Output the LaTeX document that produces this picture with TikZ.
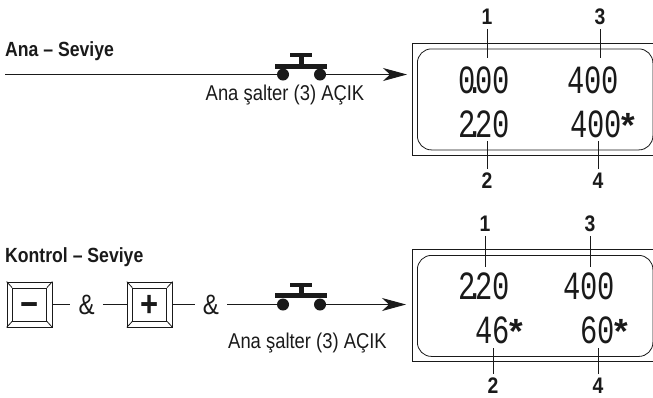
\documentclass[tikz,border=0pt]{standalone}
\usepackage{fontspec}
\usepackage{xcolor}
\usepackage{tikz}
\usetikzlibrary{arrows.meta, positioning, calc}
\setmainfont{Liberation Sans}[FakeStretch=0.86]
\newfontfamily\lcdfont{Liberation Mono}[FakeStretch=0.72]
\newfontfamily\starfont{Liberation Sans Bold}
\definecolor{inkcolor}{HTML}{1A1A1A}
\newcommand{\lcddot}{\kern-0.22em.\kern-0.22em}
\newcommand{\lcdstar}{{\starfont\fontsize{35}{35}\selectfont *}}

\begin{document}
\begin{tikzpicture}[x=1pt, y=-1pt, inkcolor, 
  heading/.style={anchor=west, inner sep=0pt, font=\fontsize{20.5}{22}\selectfont},
  caption/.style={inner sep=0pt, font=\fontsize{21.4}{22}\selectfont},
  callout/.style={inner sep=0pt, font=\fontsize{22.5}{23}\selectfont\bfseries},
  amp/.style={inner sep=0pt, minimum width=32pt, font=\fontsize{28}{30}\selectfont},
  lcd/.style={inner sep=0pt, font=\lcdfont\fontsize{40}{42}\selectfont},
  screen/.style={draw, line width=0.8pt, minimum width=245pt, minimum height=112pt, anchor=north west, inner sep=0pt},
  panel/.style={draw, line width=0.8pt, rounded corners=14pt, minimum width=235.5pt, minimum height=101pt, anchor=north west, inner sep=0pt},
  keyface/.style={draw, line width=0.8pt, minimum width=34pt, minimum height=33pt, inner sep=0pt},
  keycap/.style={draw, line width=0.8pt, minimum width=45pt, minimum height=45pt, inner sep=0pt},
  keysign/.style={inner sep=0pt, font=\fontsize{36}{36}\bfseries\selectfont},
  contact/.style={circle, fill, draw=none, minimum size=12pt, inner sep=0pt},
  wire/.style={line width=1pt},
  feed/.style={wire, -{Stealth[length=24pt, width=13pt, inset=7pt]}},
  tick/.style={line width=1pt}]

  \useasboundingbox (0,0) rectangle (653,397);

  % Ana level
  \node[heading] (H1) at (5,51) {\textbf{Ana – Seviye}};
  \coordinate (W1) at (5,74.5);
  \node[contact] (C1) at (283,74.5) {};
  \node[contact] (C2) at (320,74.5) {};
  \fill (275,63.5) rectangle (327,68.5);
  \fill (298.5,57) rectangle (303.5,64);
  \fill (290,53) rectangle (312,57);
  \node[caption] (T1) at (285,95) {Ana şalter (3) AÇIK};

  % Ana display
  \node[screen] (S1) at (412,43) {};
  \node[panel] (P1) at (417,48.5) {};
  \node[lcd] (D1) at (484,80) {0\lcddot00};
  \node[lcd] (D2) at (593,80) {400};
  \node[lcd] (D3) at (484,124) {2\lcddot20};
  \node[lcd, anchor=west] (D4) at (570,124) {400\kern-0.02em\lcdstar};
  \coordinate (I1) at (407,74.5);
  \draw[wire] (W1) -- (C1);
  \draw[feed] (C2) -- (I1);

  % Ana callouts
  \node[callout] (N1) at (487,17) {1};
  \node[callout] (N2) at (487,181) {2};
  \node[callout] (N3) at (600,17) {3};
  \node[callout] (N4) at (598,181) {4};
  \coordinate (L1) at (487,58);
  \coordinate (L2) at (487,141);
  \coordinate (L3) at (600,58);
  \coordinate (L4) at (598,141);
  \draw[tick] (N1.south) ++(0,4) -- (L1);
  \draw[tick] (N2.north) ++(0,-4) -- (L2);
  \draw[tick] (N3.south) ++(0,4) -- (L3);
  \draw[tick] (N4.north) ++(0,-4) -- (L4);

  % Kontrol level
  \node[heading] (H2) at (5,257) {\textbf{Kontrol – Seviye}};
  \node[keycap] (K1) at (29.5,304.5) {};
  \node[keyface] (F1) at (K1) {};
  \node[keysign, yshift=-5pt] at (F1) {−};
  \node[amp, right=18pt of K1] (A1) {\&};
  \node[keycap, right=24pt of A1] (K2) {};
  \node[keyface] (F2) at (K2) {};
  \node[keysign, yshift=-1pt] at (F2) {+};
  \node[amp, right=22pt of K2] (A2) {\&};
  \foreach \k/\f in {K1/F1, K2/F2} {
    \draw[line width=0.8pt] (\k.north west) -- (\f.north west);
    \draw[line width=0.8pt] (\k.north east) -- (\f.north east);
    \draw[line width=0.8pt] (\k.south west) -- (\f.south west);
    \draw[line width=0.8pt] (\k.south east) -- (\f.south east);
  }
  \node[contact] (C3) at (283,304.5) {};
  \node[contact] (C4) at (320,304.5) {};
  \fill (275,293) rectangle (327,298);
  \fill (298.5,287) rectangle (303.5,294);
  \fill (290,283) rectangle (312,287);
  \node[caption] (T2) at (307.5,343) {Ana şalter (3) AÇIK};

  % Kontrol display
  \node[screen] (S2) at (412,249) {};
  \node[panel] (P2) at (417,255) {};
  \node[lcd] (D5) at (484,286) {2\lcddot20};
  \node[lcd] (D6) at (589,286) {400};
  \node[lcd, anchor=west] (D7) at (475,330) {46\lcdstar};
  \node[lcd, anchor=west] (D8) at (580,330) {60\lcdstar};
  \coordinate (I2) at (406,304.5);
  \draw[wire] (K1.east) -- (A1.west);
  \draw[wire] (A1.east) -- (K2.west);
  \draw[wire] (K2.east) -- (A2.west);
  \draw[wire] (A2.east) -- (C3);
  \draw[feed] (C4) -- (I2);

  % Kontrol callouts
  \node[callout] (N5) at (485,224) {1};
  \node[callout] (N6) at (493,386) {2};
  \node[callout] (N7) at (590,224) {3};
  \node[callout] (N8) at (598,386) {4};
  \coordinate (L5) at (485,267);
  \coordinate (L6) at (493,348);
  \coordinate (L7) at (590,267);
  \coordinate (L8) at (598,348);
  \draw[tick] (N5.south) ++(0,4) -- (L5);
  \draw[tick] (N6.north) ++(0,-4) -- (L6);
  \draw[tick] (N7.south) ++(0,4) -- (L7);
  \draw[tick] (N8.north) ++(0,-4) -- (L8);

\end{tikzpicture}
\end{document}
